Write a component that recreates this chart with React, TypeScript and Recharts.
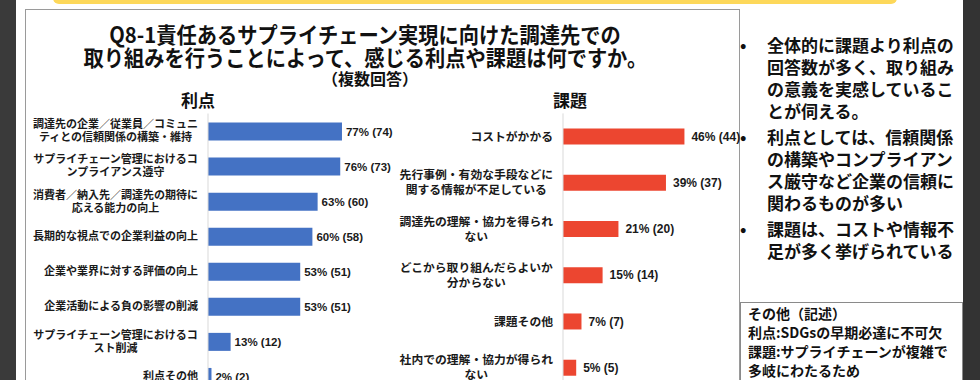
import React from 'react';
import { BarChart, Bar, XAxis, YAxis, LabelList } from 'recharts';

const benefitNames = [
  '調達先の企業／従業員／コミュニティとの信頼関係の構築・維持',
  'サプライチェーン管理におけるコンプライアンス遵守',
  '消費者／納入先／調達先の期待に応える能力の向上',
  '長期的な視点での企業利益の向上',
  '企業や業界に対する評価の向上',
  '企業活動による負の影響の削減',
  'サプライチェーン管理におけるコスト削減',
  '利点その他',
];
const benefitPct = [77, 76, 63, 60, 53, 53, 13, 2];
const benefitCount = [74, 73, 60, 58, 51, 51, 12, 2];

const issueNames = [
  'コストがかかる',
  '先行事例・有効な手段などに関する情報が不足している',
  '調達先の理解・協力を得られない',
  'どこから取り組んだらよいか分からない',
  '課題その他',
  '社内での理解・協力が得られない',
];
const issuePct = [46, 39, 21, 15, 7, 5];
const issueCount = [44, 37, 20, 14, 7, 5];

const FONT = '"Liberation Sans", "Noto Sans CJK JP", sans-serif';
const JP = '"Noto Sans CJK JP", sans-serif';

const buildRows = (names: string[], pct: number[], count: number[]) =>
  names.map((name, i) => ({ name, pct: pct[i], label: `${pct[i]}% (${count[i]})` }));

const benefitData = buildRows(benefitNames, benefitPct, benefitCount);
const issueData = buildRows(issueNames, issuePct, issueCount);

const wrap = (text: string, perLine: number) => {
  const out: string[] = [];
  for (let i = 0; i < text.length; i += perLine) out.push(text.slice(i, i + perLine));
  return out;
};

// category label: single line right-aligned, wrapped lines centred in their block
const makeTick = (right: number, perLine: number, fontSize: number, lineGap: number) => (props: any) => {
  const { y, payload } = props;
  const lines = wrap(String(payload.value), perLine);
  const style = { fontFamily: JP, fontWeight: 700, fontSize, fill: '#1a1a1a' };
  if (lines.length === 1) {
    return (
      <text x={right} y={y} dy="0.35em" textAnchor="end" style={style}>
        {lines[0]}
      </text>
    );
  }
  const maxLen = Math.max(...lines.map((l) => l.length));
  const cx = right - (maxLen * fontSize) / 2;
  return (
    <text textAnchor="middle" style={style}>
      {lines.map((l, i) => (
        <tspan key={i} x={cx} y={y + (i - (lines.length - 1) / 2) * lineGap} dy="0.35em">
          {l}
        </tspan>
      ))}
    </text>
  );
};

// value label to the right of the bar, never wrapped
const makeValueLabel = (offset: number, fontSize: number) => (props: any) => {
  const { x, y, width, height, value } = props;
  return (
    <text
      x={Number(x) + Number(width) + offset}
      y={Number(y) + Number(height) / 2}
      dy="0.35em"
      textAnchor="start"
      style={{ fontFamily: FONT, fontWeight: 700, fontSize, fill: '#1a1a1a' }}
    >
      {value}
    </text>
  );
};

const abs = (left: number, top: number, extra: React.CSSProperties = {}): React.CSSProperties => ({
  position: 'absolute',
  left,
  top,
  ...extra,
});

const bulletText = [
  ['全体的に課題より利点の', '回答数が多く、取り組み', 'の意義を実感しているこ', 'とが伺える。'],
  ['利点としては、信頼関係', 'の構築やコンプライアン', 'ス厳守など企業の信頼に', '関わるものが多い'],
  ['課題は、コストや情報不', '足が多く挙げられている'],
];

const otherText = ['その他（記述）', '利点:SDGsの早期必達に不可欠', '課題:サプライチェーンが複雑で', '多岐にわたるため'];

const titleLine: React.CSSProperties = {
  position: 'absolute',
  left: 0,
  width: 730,
  textAlign: 'center',
  fontFamily: JP,
  fontWeight: 700,
  color: '#111',
  whiteSpace: 'nowrap',
};

export default function App() {
  return (
    <div
      style={{
        position: 'absolute',
        left: 0,
        top: 0,
        width: 980,
        height: 380,
        overflow: 'hidden',
        background: '#fff',
      }}
    >
      <div style={abs(0, 0, { width: 16, height: 380, background: '#3a3a3a' })} />
      <div style={abs(963, 0, { width: 17, height: 380, background: '#333' })} />
      <div
        style={abs(53, -4, {
          width: 844,
          height: 8,
          background: '#FDD85A',
          borderRadius: '0 0 6px 6px',
        })}
      />
      <div style={abs(25, 9, { width: 715, height: 400, border: '1px solid #9a9a9a', boxSizing: 'border-box' })} />

      <div style={{ ...titleLine, top: 22, fontSize: 22, lineHeight: '22px' }}>
        <span style={{ display: 'inline-block', transform: 'scaleX(0.92)' }}>
          Q8-1責任あるサプライチェーン実現に向けた調達先での
        </span>
      </div>
      <div style={{ ...titleLine, top: 45, fontSize: 22, lineHeight: '22px' }}>
        <span style={{ display: 'inline-block', transform: 'scaleX(0.92)' }}>
          取り組みを行うことによって、感じる利点や課題は何ですか。
        </span>
      </div>
      <div style={{ ...titleLine, top: 69, fontSize: 16, lineHeight: '18px', left: 5 }}>（複数回答）</div>

      <div style={abs(158, 89, { width: 80, textAlign: 'center', fontFamily: JP, fontWeight: 700, fontSize: 17, lineHeight: '22px', color: '#111' })}>
        利点
      </div>
      <div style={abs(530, 89, { width: 80, textAlign: 'center', fontFamily: JP, fontWeight: 700, fontSize: 17, lineHeight: '22px', color: '#111' })}>
        課題
      </div>

      <div style={abs(0, 0)}>
        <BarChart
          width={400}
          height={394}
          layout="vertical"
          data={benefitData}
          margin={{ top: 113.5, right: 18, bottom: 0, left: 0 }}
        >
          <XAxis type="number" domain={[0, 100]} hide />
          <YAxis
            type="category"
            dataKey="name"
            width={208}
            interval={0}
            tickLine={false}
            axisLine={{ stroke: '#d9d9d9' }}
            tick={makeTick(198, 15, 11, 13)}
          />
          <Bar dataKey="pct" fill="#4472C4" barSize={18} isAnimationActive={false}>
            <LabelList dataKey="label" content={makeValueLabel(4, 11.5)} />
          </Bar>
        </BarChart>
      </div>

      <div style={abs(390, 0)}>
        <BarChart
          width={450}
          height={391}
          layout="vertical"
          data={issueData}
          margin={{ top: 113.4, right: 13, bottom: 0, left: 0 }}
        >
          <XAxis type="number" domain={[0, 100]} hide />
          <YAxis
            type="category"
            dataKey="name"
            width={173}
            interval={0}
            tickLine={false}
            axisLine={{ stroke: '#d9d9d9' }}
            tick={makeTick(163, 13, 11.8, 15)}
          />
          <Bar dataKey="pct" fill="#EC4630" barSize={16} isAnimationActive={false}>
            <LabelList dataKey="label" content={makeValueLabel(7, 12)} />
          </Bar>
        </BarChart>
      </div>

      <div style={abs(738, 34, { width: 225, fontFamily: JP, fontWeight: 700, fontSize: 17, lineHeight: '22px', color: '#111' })}>
        {bulletText.map((lines, i) => (
          <div key={i} style={{ display: 'flex', marginTop: i === 0 ? 0 : 4 }}>
            <div style={{ width: 27, flexShrink: 0, paddingLeft: 2 }}>•</div>
            <div>
              {lines.map((l, j) => (
                <div key={j} style={{ whiteSpace: 'nowrap' }}>{l}</div>
              ))}
            </div>
          </div>
        ))}
      </div>

      <div
        style={abs(740, 302, {
          width: 223,
          height: 100,
          border: '1px solid #8a8a8a',
          boxSizing: 'border-box',
          padding: '1px 0 0 7px',
          fontFamily: JP,
          fontWeight: 700,
          fontSize: 14,
          lineHeight: '19px',
          color: '#111',
          whiteSpace: 'nowrap',
        })}
      >
        {otherText.map((l, i) => (
          <div key={i}>{l}</div>
        ))}
      </div>
    </div>
  );
}
